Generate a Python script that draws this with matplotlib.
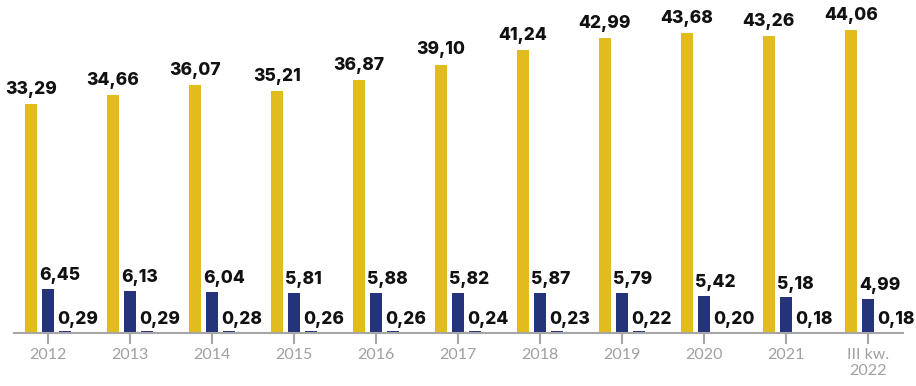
import matplotlib.pyplot as plt
import numpy as np

years = ['2012', '2013', '2014', '2015', '2016', '2017', '2018', '2019', '2020', '2021', 'III kw.\n2022']
s1 = [33.29, 34.66, 36.07, 35.21, 36.87, 39.10, 41.24, 42.99, 43.68, 43.26, 44.06]
s2 = [6.45, 6.13, 6.04, 5.81, 5.88, 5.82, 5.87, 5.79, 5.42, 5.18, 4.99]
s3 = [0.29, 0.29, 0.28, 0.26, 0.26, 0.24, 0.23, 0.22, 0.20, 0.18, 0.18]

yellow = '#E2BC1C'
navy = '#25337A'
gray = '#A6A6A6'

def fmt(v):
    return f'{v:.2f}'.replace('.', ',')

fig = plt.figure(figsize=(9.16, 3.86), dpi=100)
ax = fig.add_axes([14/916, 53/386, 889/916, 333/386])

x = np.arange(len(years))
w = 0.146
d = 0.207
ax.bar(x - d, s1, w, color=yellow)
ax.bar(x, s2, w, color=navy)
ax.bar(x + d, s3, w, color=navy)

lab = dict(fontsize=12.5, fontweight='heavy', family='Inter', color='#111111', va='bottom')
for i in range(len(x)):
    ax.text(x[i] - d, s1[i] + 0.9, fmt(s1[i]), ha='center', **lab)
    ax.text(x[i] - w/2 - 0.03, s2[i] + 0.7, fmt(s2[i]), ha='left', **lab)
    ax.text(x[i] + d - w/2 - 0.02, s3[i] + 0.5, fmt(s3[i]), ha='left', **lab)

ax.set_xlim(-0.415, 10.43)
ax.set_ylim(0, 48.5)
ax.set_xticks(x, years)
ax.set_yticks([])
for s in ['top', 'right', 'left']:
    ax.spines[s].set_visible(False)
ax.spines['bottom'].set_color(gray)
ax.spines['bottom'].set_linewidth(1.5)
ax.tick_params(axis='x', colors=gray, length=8, width=1.5, labelsize=11.5, pad=3)
for t in ax.get_xticklabels():
    t.set_family('Lato')
    t.set_color('#A0A0A0')

fig.savefig('out.png', dpi=100)
